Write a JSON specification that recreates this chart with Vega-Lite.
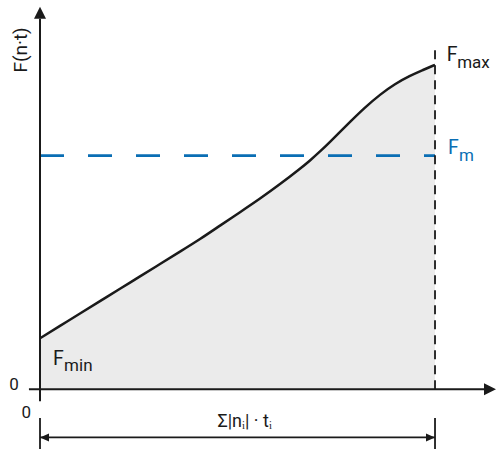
{
  "$schema": "https://vega.github.io/schema/vega-lite/v6.json",
  "autosize": {"type": "fit", "contains": "padding"},
  "width": 496,
  "height": 451,
  "padding": 0,
  "background": "white",
  "config": {"view": {"stroke": null}},
  "datasets": {
    "curve": [
      {"x": 0, "F": 15.69},
      {"x": 5.06, "F": 19.51},
      {"x": 10.13, "F": 23.32},
      {"x": 15.19, "F": 27.14},
      {"x": 20.25, "F": 30.95},
      {"x": 25.32, "F": 34.77},
      {"x": 30.38, "F": 38.58},
      {"x": 35.44, "F": 42.4},
      {"x": 40.51, "F": 46.22},
      {"x": 45.57, "F": 50.43},
      {"x": 50.63, "F": 54.55},
      {"x": 55.7, "F": 58.71},
      {"x": 60.76, "F": 63.17},
      {"x": 65.82, "F": 67.94},
      {"x": 68.35, "F": 70.49},
      {"x": 70.89, "F": 73.26},
      {"x": 73.42, "F": 76.25},
      {"x": 75.95, "F": 79.32},
      {"x": 78.48, "F": 82.4},
      {"x": 82.28, "F": 86.89},
      {"x": 86.08, "F": 90.86},
      {"x": 89.87, "F": 94.15},
      {"x": 93.67, "F": 96.65},
      {"x": 96.71, "F": 98.3},
      {"x": 100, "F": 100}
    ],
    "axes": [
      {"x": -2.8, "x2": 112.9, "F": 0, "F2": 0},
      {"x": 0, "x2": 0, "F": -3.7, "F2": 114.2}
    ],
    "dims": [
      {"x": 0, "x2": 100, "F": -14.9, "F2": -14.9},
      {"x": 0, "x2": 0, "F": -8.9, "F2": -18.5},
      {"x": 100, "x2": 100, "F": -8.9, "F2": -18.5}
    ],
    "mean": [{"x": 0, "x2": 100, "F": 72, "F2": 72}],
    "end": [{"x": 100, "x2": 100, "F": 0, "F2": 106.2}],
    "symbols": [
      {"x": 103.0, "F": 101.2, "label": "F"},
      {"x": 3.3, "F": 7.4, "label": "F"}
    ],
    "subs": [
      {"x": 105.6, "F": 99.1, "label": "max"},
      {"x": 6.1, "F": 5.5, "label": "min"}
    ]
  },
  "layer": [
    {
      "data": {"name": "curve"},
      "mark": {"type": "area", "color": "#ebebeb", "interpolate": "basis"},
      "encoding": {
        "x": {"field": "x", "type": "quantitative", "scale": {"domain": [-10.127, 115.44], "nice": false, "zero": false}, "axis": null},
        "y": {"field": "F", "type": "quantitative", "scale": {"domain": [-18.77, 120], "nice": false, "zero": false}, "axis": null},
        "y2": {"datum": 0}
      }
    },
    {
      "data": {"name": "mean"},
      "mark": {"type": "rule", "color": "#0a6eb4", "strokeWidth": 2.6, "strokeDash": [24, 24]},
      "encoding": {
        "x": {"field": "x", "type": "quantitative"},
        "x2": {"field": "x2"},
        "y": {"field": "F", "type": "quantitative"}
      }
    },
    {
      "data": {"name": "curve"},
      "mark": {"type": "line", "color": "#1a1a1a", "strokeWidth": 2.5, "interpolate": "basis"},
      "encoding": {
        "x": {"field": "x", "type": "quantitative"},
        "y": {"field": "F", "type": "quantitative"}
      }
    },
    {
      "data": {"name": "end"},
      "mark": {"type": "rule", "color": "#1a1a1a", "strokeWidth": 1.8, "strokeDash": [9, 6]},
      "encoding": {
        "x": {"field": "x", "type": "quantitative"},
        "y": {"field": "F", "type": "quantitative"},
        "y2": {"field": "F2"}
      }
    },
    {
      "data": {"name": "axes"},
      "mark": {"type": "rule", "color": "#1a1a1a", "strokeWidth": 2},
      "encoding": {
        "x": {"field": "x", "type": "quantitative"},
        "x2": {"field": "x2"},
        "y": {"field": "F", "type": "quantitative"},
        "y2": {"field": "F2"}
      }
    },
    {
      "data": {"name": "dims"},
      "mark": {"type": "rule", "color": "#1a1a1a", "strokeWidth": 1.8},
      "encoding": {
        "x": {"field": "x", "type": "quantitative"},
        "x2": {"field": "x2"},
        "y": {"field": "F", "type": "quantitative"},
        "y2": {"field": "F2"}
      }
    },
    {
      "data": {"values": [{"x": 0, "F": 117.9}]},
      "mark": {"type": "point", "shape": "M0,0L1,2L-1,2Z", "size": 144, "filled": true, "opacity": 1, "color": "#1a1a1a", "strokeWidth": 0},
      "encoding": {
        "x": {"field": "x", "type": "quantitative"},
        "y": {"field": "F", "type": "quantitative"}
      }
    },
    {
      "data": {"values": [{"x": 115.44, "F": 0}]},
      "mark": {"type": "point", "shape": "M0,0L-2,-1L-2,1Z", "size": 144, "filled": true, "opacity": 1, "color": "#1a1a1a", "strokeWidth": 0},
      "encoding": {
        "x": {"field": "x", "type": "quantitative"},
        "y": {"field": "F", "type": "quantitative"}
      }
    },
    {
      "data": {"values": [{"x": 0, "F": -14.9}]},
      "mark": {"type": "point", "shape": "M0,0L1.8,-0.8L1.8,0.8Z", "size": 100, "filled": true, "opacity": 1, "color": "#1a1a1a", "strokeWidth": 0},
      "encoding": {
        "x": {"field": "x", "type": "quantitative"},
        "y": {"field": "F", "type": "quantitative"}
      }
    },
    {
      "data": {"values": [{"x": 100, "F": -14.9}]},
      "mark": {"type": "point", "shape": "M0,0L-1.8,-0.8L-1.8,0.8Z", "size": 100, "filled": true, "opacity": 1, "color": "#1a1a1a", "strokeWidth": 0},
      "encoding": {
        "x": {"field": "x", "type": "quantitative"},
        "y": {"field": "F", "type": "quantitative"}
      }
    },
    {
      "data": {"name": "symbols"},
      "mark": {"type": "text", "font": "Roboto", "fontSize": 19.5, "align": "left", "baseline": "alphabetic", "color": "#1a1a1a"},
      "encoding": {
        "x": {"field": "x", "type": "quantitative"},
        "y": {"field": "F", "type": "quantitative"},
        "text": {"field": "label"}
      }
    },
    {
      "data": {"name": "subs"},
      "mark": {"type": "text", "font": "Roboto", "fontSize": 17, "align": "left", "baseline": "alphabetic", "color": "#1a1a1a"},
      "encoding": {
        "x": {"field": "x", "type": "quantitative"},
        "y": {"field": "F", "type": "quantitative"},
        "text": {"field": "label"}
      }
    },
    {
      "data": {"values": [{"x": 103.3, "F": 72.6, "label": "F"}]},
      "mark": {"type": "text", "font": "Roboto", "fontSize": 19.5, "align": "left", "baseline": "alphabetic", "color": "#0a6eb4"},
      "encoding": {
        "x": {"field": "x", "type": "quantitative"},
        "y": {"field": "F", "type": "quantitative"},
        "text": {"field": "label"}
      }
    },
    {
      "data": {"values": [{"x": 106.1, "F": 70.2, "label": "m"}]},
      "mark": {"type": "text", "font": "Roboto", "fontSize": 17, "align": "left", "baseline": "alphabetic", "color": "#0a6eb4"},
      "encoding": {
        "x": {"field": "x", "type": "quantitative"},
        "y": {"field": "F", "type": "quantitative"},
        "text": {"field": "label"}
      }
    },
    {
      "data": {"values": [
        {"x": -6.6, "F": -0.3, "label": "0"},
        {"x": -3.5, "F": -8.9, "label": "0"}
      ]},
      "mark": {"type": "text", "font": "Roboto", "fontSize": 17, "align": "center", "baseline": "alphabetic", "color": "#1a1a1a"},
      "encoding": {
        "x": {"field": "x", "type": "quantitative"},
        "y": {"field": "F", "type": "quantitative"},
        "text": {"field": "label"}
      }
    },
    {
      "data": {"values": [{"x": 51.8, "F": -11.7, "label": "Σ|nᵢ| · tᵢ"}]},
      "mark": {"type": "text", "font": "Roboto", "fontSize": 18, "align": "center", "baseline": "alphabetic", "color": "#1a1a1a"},
      "encoding": {
        "x": {"field": "x", "type": "quantitative"},
        "y": {"field": "F", "type": "quantitative"},
        "text": {"field": "label"}
      }
    },
    {
      "data": {"values": [{"x": -4.8, "F": 104.6, "label": "F(n·t)"}]},
      "mark": {"type": "text", "font": "Roboto", "fontSize": 19, "angle": 270, "align": "center", "baseline": "middle", "color": "#1a1a1a"},
      "encoding": {
        "x": {"field": "x", "type": "quantitative"},
        "y": {"field": "F", "type": "quantitative"},
        "text": {"field": "label"}
      }
    }
  ]
}
